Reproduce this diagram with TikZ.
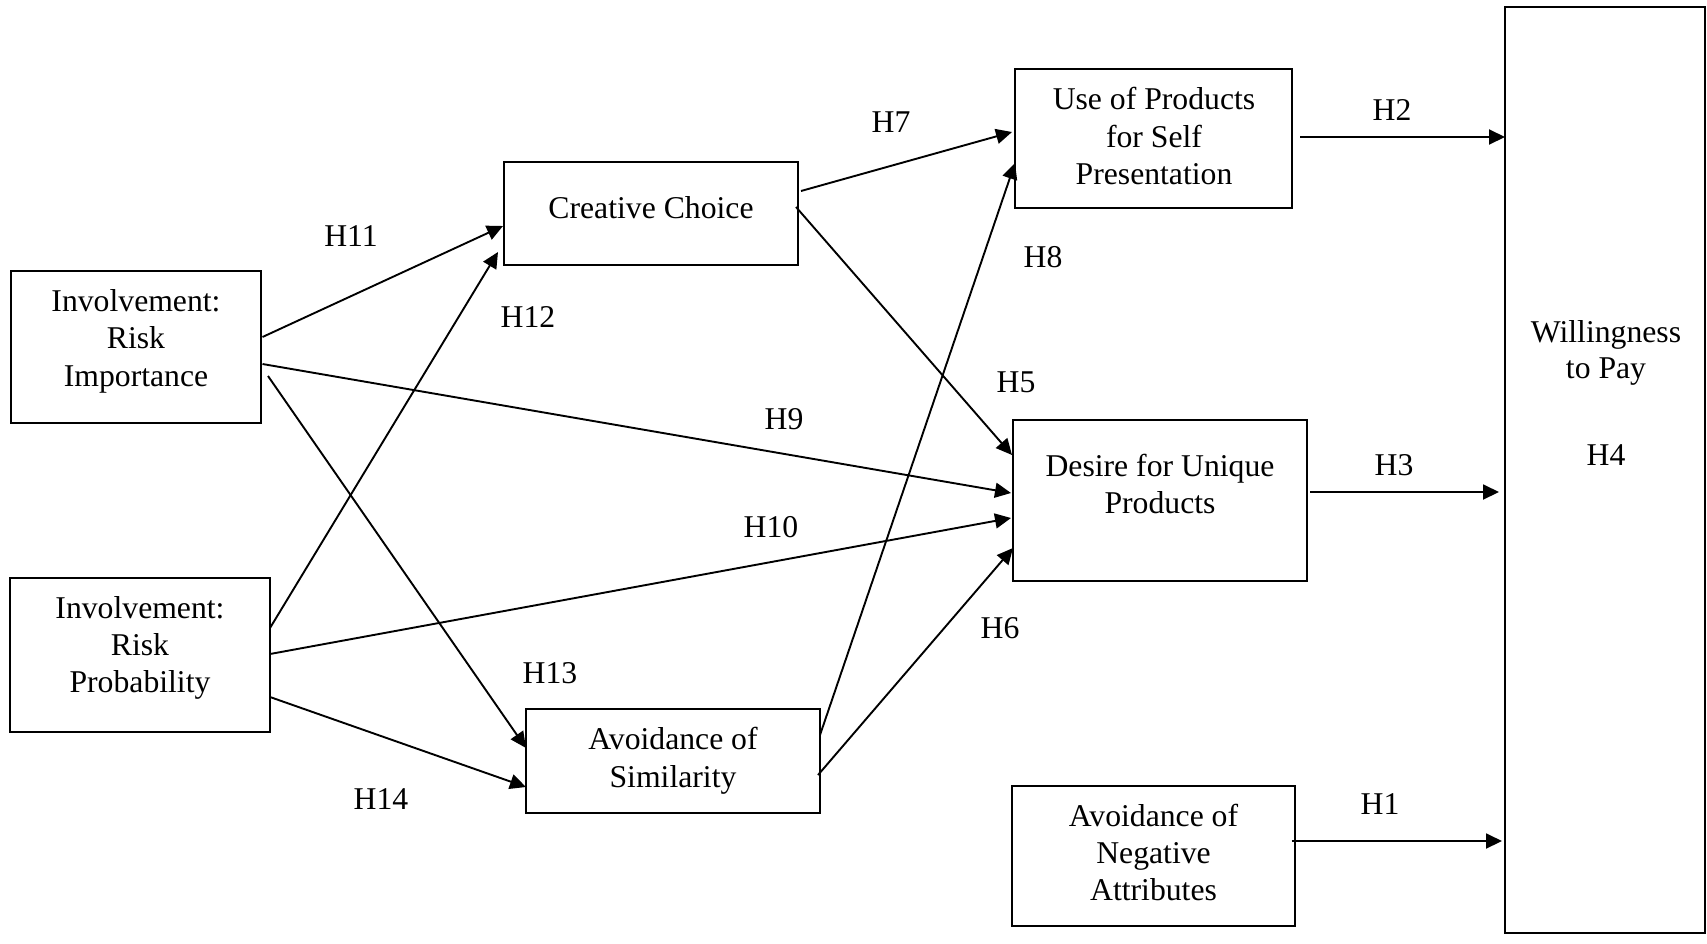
\documentclass[tikz,border=0pt]{standalone}
\usepackage{fontspec}
\setmainfont{Liberation Serif}
\usetikzlibrary{arrows.meta,calc}
\begin{document}
\begin{tikzpicture}[x=1pt,y=-1pt,
  box/.style={draw, line width=2.4pt, inner sep=0pt, outer sep=0pt},
  txt/.style={anchor=base, inner sep=0pt, font=\fontsize{31.7}{37.5}\selectfont},
  link/.style={line width=1.9pt, -{Triangle[length=16pt,width=15pt]}}]
\useasboundingbox (0,0) rectangle (1707,943);

% construct boxes
\node[box, minimum width=250pt, minimum height=152pt] (ri)  at (136,347)     {};
\node[box, minimum width=260pt, minimum height=154pt] (rp)  at (140,655)     {};
\node[box, minimum width=294pt, minimum height=103pt] (cc)  at (651,213.5)   {};
\node[box, minimum width=294pt, minimum height=104pt] (as)  at (673,761)     {};
\node[box, minimum width=277pt, minimum height=139pt] (up)  at (1153.5,138.5){};
\node[box, minimum width=294pt, minimum height=161pt] (du)  at (1160,500.5)  {};
\node[box, minimum width=283pt, minimum height=140pt] (ana) at (1153.5,856)  {};
\node[box, minimum width=200pt, minimum height=926pt] (wtp) at (1605,470)    {};

% box captions
\node[txt] (ri1) at (136,311) {Involvement:};
\node[txt] (ri2) at (136,348) {Risk};
\node[txt] (ri3) at (136,386) {Importance};
\node[txt] (rp1) at (140,618) {Involvement:};
\node[txt] (rp2) at (140,655) {Risk};
\node[txt] (rp3) at (140,692) {Probability};
\node[txt] (cc1) at (651,218) {Creative Choice};
\node[txt] (as1) at (673,749) {Avoidance of};
\node[txt] (as2) at (673,787) {Similarity};
\node[txt] (up1) at (1154,109) {Use of Products};
\node[txt] (up2) at (1154,147) {for Self};
\node[txt] (up3) at (1154,184) {Presentation};
\node[txt] (du1) at (1160,476) {Desire for Unique};
\node[txt] (du2) at (1160,513) {Products};
\node[txt] (an1) at (1153.5,826) {Avoidance of};
\node[txt] (an2) at (1153.5,863) {Negative};
\node[txt] (an3) at (1153.5,900) {Attributes};
\node[txt] (wt1) at (1606,342) {Willingness};
\node[txt] (wt2) at (1606,378) {to Pay};

% hypothesis labels
\node[txt] (h1)  at (1380,814) {H1};
\node[txt] (h2)  at (1392,120) {H2};
\node[txt] (h3)  at (1394,475) {H3};
\node[txt] (h4)  at (1606,465) {H4};
\node[txt] (h5)  at (1016,392) {H5};
\node[txt] (h6)  at (1000,638) {H6};
\node[txt] (h7)  at (891,132)  {H7};
\node[txt] (h8)  at (1043,267) {H8};
\node[txt] (h9)  at (784,429)  {H9};
\node[txt] (h10) at (771,537)  {H10};
\node[txt] (h11) at (351,246)  {H11};
\node[txt] (h12) at (528,327)  {H12};
\node[txt] (h13) at (550,683)  {H13};
\node[txt] (h14) at (381,809)  {H14};

% paths
\draw[link] ($(ri.north east)+(1.5,66)$)  -- ($(cc.north west)+(-1,64)$);
\draw[link] ($(ri.north east)+(1.5,93)$)  -- ($(du.north west)+(-2,73)$);
\draw[link] ($(ri.north east)+(7,105)$)   -- ($(as.north west)+(0,39)$);
\draw[link] ($(rp.north east)+(0,50)$)    -- ($(cc.north west)+(-6,90)$);
\draw[link] ($(rp.north east)+(0,76)$)    -- ($(du.north west)+(-2,98)$);
\draw[link] ($(rp.north east)+(0,119)$)   -- ($(as.north west)+(0,78)$);
\draw[link] ($(cc.north east)+(3,29)$)    -- ($(up.north west)+(-3,63)$);
\draw[link] ($(cc.north east)+(-2,45)$)   -- ($(du.north west)+(-1,35)$);
\draw[link] ($(as.north east)+(0,26)$)    -- ($(up.north west)+(0,94)$);
\draw[link] ($(as.north east)+(-2,66)$)   -- ($(du.north west)+(0,128)$);
\draw[link] ($(up.north east)+(8,68)$)    -- ($(wtp.north west)+(0,130)$);
\draw[link] ($(du.north east)+(3,72)$)    -- ($(wtp.north west)+(-6,485)$);
\draw[link] ($(ana.north east)+(-3.5,55)$) -- ($(wtp.north west)+(-3,834)$);
\end{tikzpicture}
\end{document}
